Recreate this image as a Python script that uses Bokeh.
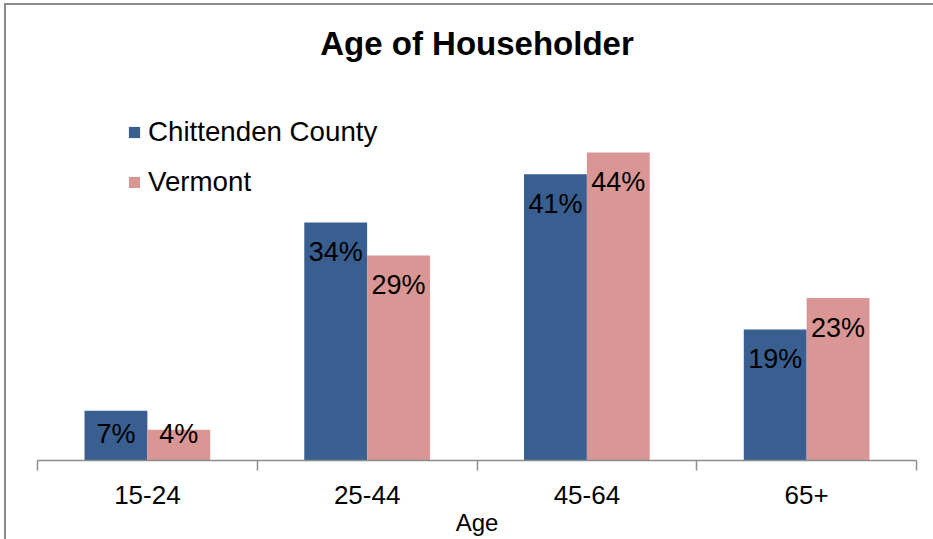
import numpy as np
from bokeh.plotting import figure
from bokeh.models import Range1d, FixedTicker, Label, Legend, LegendItem
from bokeh.embed import file_html
from bokeh.resources import INLINE
from bokeh.core.properties import value

# ---- data ----
title_text = "Age of Householder"
categories = ["15-24", "25-44", "45-64", "65+"]
series_names = ["Chittenden County", "Vermont"]
chittenden = [7.1, 34.0, 40.9, 18.7]
vermont = [4.4, 29.3, 44.0, 23.2]
x_label = "Age"

# ---- style ----
BLUE = "#385f8f"
PINK = "#d99694"
AXIS_COLOR = "#8c8c8c"
FONT = "Liberation Sans"

W, H = 933, 539
FRAME_H = 460
PX_PER_UNIT = 7.0
Y_END = FRAME_H / PX_PER_UNIT
BAR_W = 0.286

p = figure(width=W, height=H, output_backend="svg", toolbar_location=None,
           x_range=Range1d(0, len(categories)), y_range=Range1d(0, Y_END),
           min_border_left=37, min_border_right=17, min_border_top=0,
           min_border_bottom=H - FRAME_H)
p.title.visible = False
p.yaxis.visible = False
p.xgrid.visible = False
p.ygrid.visible = False
p.outline_line_color = None
p.background_fill_alpha = 0
p.border_fill_alpha = 0
p.styles = {"box-shadow": "inset 4px 3px 0 0 #ffffff, inset 6px 5px 0 0 #8c8c8c",
            "background-color": "#ffffff"}

centers = np.arange(len(categories)) + 0.5
x_blue = centers - BAR_W / 2
x_pink = centers + BAR_W / 2

r1 = p.vbar(x=x_blue, top=chittenden, width=BAR_W, fill_color=BLUE, line_color=None)
r2 = p.vbar(x=x_pink, top=vermont, width=BAR_W, fill_color=PINK, line_color=None)

# data labels: inside end, kept above the baseline
DROP = 29.5 / PX_PER_UNIT
FLOOR = 26.5 / PX_PER_UNIT
for xs, vals in ((x_blue, chittenden), (x_pink, vermont)):
    vals = np.array(vals)
    ys = np.maximum(vals - DROP, FLOOR)
    p.text(x=xs, y=ys, text=[f"{int(round(v))}%" for v in vals],
           text_align="center", text_baseline="middle",
           text_font=value(FONT), text_font_size="27px", text_color="black")

# title
p.add_layout(Label(x=len(categories) / 2, y=(FRAME_H - 42.5) / PX_PER_UNIT,
                   text=title_text, text_align="center", text_baseline="middle",
                   text_font=FONT, text_font_size="33px", text_font_style="bold",
                   text_color="black"))

# axis
ax = p.xaxis[0]
ax.ticker = FixedTicker(ticks=list(centers), minor_ticks=list(range(len(categories) + 1)))
ax.major_label_overrides = {float(c): cat for c, cat in zip(centers, categories)}
ax.major_tick_out = 0
ax.major_tick_in = 0
ax.minor_tick_out = 10
ax.minor_tick_in = 0
ax.minor_tick_line_color = AXIS_COLOR
ax.minor_tick_line_width = 1.5
ax.axis_line_color = AXIS_COLOR
ax.axis_line_width = 1.5
ax.major_label_standoff = 15
ax.major_label_text_font = FONT
ax.major_label_text_font_size = "26px"
ax.major_label_text_color = "black"
ax.axis_label = x_label
ax.axis_label_text_font = FONT
ax.axis_label_text_font_size = "24px"
ax.axis_label_text_font_style = "normal"
ax.axis_label_text_color = "black"
ax.axis_label_standoff = 2

legend = Legend(items=[LegendItem(label=series_names[0], renderers=[r1]),
                       LegendItem(label=series_names[1], renderers=[r2])],
                location=(90, 262), orientation="vertical", padding=0, margin=0,
                spacing=18, glyph_width=14, glyph_height=14, label_standoff=7,
                label_text_font=FONT, label_text_font_size="27.7px",
                label_text_color="black", border_line_color=None,
                background_fill_alpha=0)
p.add_layout(legend)

open("out.html", "w").write(file_html(p, INLINE))
